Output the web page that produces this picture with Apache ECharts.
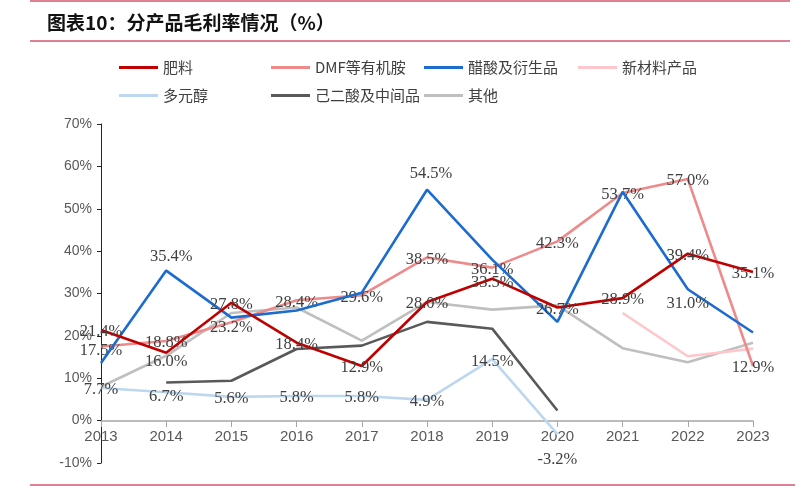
<!DOCTYPE html>
<html>
<head>
<meta charset="utf-8">
<script src="https://cdn.jsdelivr.net/npm/echarts@6/dist/echarts.min.js"></script>
<style>html,body{margin:0;padding:0;background:#fff}#c{width:808px;height:488px}</style>
</head>
<body>
<div id="c"></div>
<script>
const years = ['2013','2014','2015','2016','2017','2018','2019','2020','2021','2022','2023'];
const fertilizer = [21.4, 16.0, 27.8, 18.4, 12.9, 28.0, 33.5, 26.7, 28.9, 39.4, 35.1];
const dmf = [17.5, 18.8, 23.2, 28.4, 29.6, 38.5, 36.1, 42.3, 53.7, 57.0, 12.9];
const acetic = [13.6, 35.4, 24.3, 26.0, 30.2, 54.5, 38.0, 23.3, 54.0, 31.0, 20.8];
const newMaterial = [null, null, null, null, null, null, null, null, 25.4, 15.2, 17.0];
const polyol = [7.7, 6.7, 5.6, 5.8, 5.8, 4.9, 14.5, -3.2, null, null, null];
const adipic = [null, 9.0, 9.4, 16.9, 17.7, 23.3, 21.7, 2.4, null, null, null];
const other = [8.0, 15.3, 25.4, 26.7, 18.9, 28.0, 26.2, 27.2, 17.1, 13.8, 18.4];
const yTicks = ['-10%','0%','10%','20%','30%','40%','50%','60%','70%'];

const names = ['肥料','DMF等有机胺','醋酸及衍生品','新材料产品','多元醇','己二酸及中间品','其他'];
const colors = ['#C00000','#EE8A8A','#1C6BCF','#FFC7CB','#BDD7EE','#595959','#BFBFBF'];

const labelBase = {
  show: true, position: 'inside', offset: [0, 2],
  fontFamily: 'Liberation Serif', fontSize: 16.5, color: '#404040',
  formatter: p => p.value.toFixed(1) + '%'
};

function items(arr, overrides, labelAll) {
  return arr.map((v, i) => {
    if (v === null) return null;
    const it = { value: v };
    if (overrides[i]) it.label = Object.assign({ show: true }, overrides[i]);
    else if (!labelAll) it.label = { show: false };
    return it;
  });
}

function mkSeries(name, color, data, z) {
  return {
    name, type: 'line', data, z,
    symbol: 'circle', symbolSize: 0.01, showSymbol: true,
    connectNulls: false,
    lineStyle: { color, width: 2.6 },
    itemStyle: { color },
    label: Object.assign({}, labelBase),
    emphasis: { disabled: true },
    animation: false
  };
}

const series = [
  mkSeries('其他', colors[6], items(other, {}, false), 1),
  mkSeries('己二酸及中间品', colors[5], items(adipic, {}, false), 2),
  mkSeries('新材料产品', colors[3], items(newMaterial, {}, false), 2),
  mkSeries('多元醇', colors[4], items(polyol, {1: {offset: [0, 4]}, 7: {offset: [0, 25]}}, true), 3),
  mkSeries('DMF等有机胺', colors[1], items(dmf, {0: {offset: [0, 4]}, 2: {offset: [0, 5]}}, true), 4),
  mkSeries('醋酸及衍生品', colors[2], items(acetic, {1: {offset: [5, -14]}, 5: {offset: [4, -16]}, 9: {offset: [0, 14]}}, false), 5),
  mkSeries('肥料', colors[0], items(fertilizer, {1: {offset: [0, 9]}, 6: {offset: [0, 4]}}, true), 6)
];

const legendPos = [
  [114, 55], [266, 55], [419, 55], [573, 55],
  [114, 83], [266, 83], [419, 83]
];
const legends = names.map((n, i) => ({
  data: [n], left: legendPos[i][0], top: legendPos[i][1],
  icon: 'rect', itemWidth: 39, itemHeight: 3, itemGap: 0,
  selectedMode: false,
  textStyle: { fontFamily: 'Noto Sans CJK SC', fontSize: 15, color: '#404040' }
}));

const chart = echarts.init(document.getElementById('c'), null, { renderer: 'canvas' });
chart.setOption({
  animation: false,
  color: colors,
  title: {
    text: '图表10：分产品毛利率情况（%）', left: 42, top: 8,
    textStyle: { fontFamily: 'Noto Sans CJK SC', fontSize: 19, fontWeight: 'bold', color: '#111' }
  },
  legend: legends,
  graphic: [
    { type: 'line', shape: { x1: 30, y1: 1, x2: 790, y2: 1 }, style: { stroke: '#D6566F', lineWidth: 1.5 } },
    { type: 'line', shape: { x1: 30, y1: 41, x2: 790, y2: 41 }, style: { stroke: '#D6566F', lineWidth: 1.5 } },
    { type: 'line', shape: { x1: 30, y1: 485, x2: 795, y2: 485 }, style: { stroke: '#D6566F', lineWidth: 1.5 } }
  ],
  grid: { left: 101, right: 55, top: 124, bottom: 25, containLabel: false },
  xAxis: {
    type: 'category', data: years, boundaryGap: false,
    offset: -42,
    axisLine: { onZero: false, lineStyle: { color: '#A6A6A6', width: 1.5 } },
    axisTick: { show: true, length: 6, lineStyle: { color: '#A6A6A6' } },
    axisLabel: { color: '#595959', fontSize: 15, fontFamily: 'Liberation Sans', margin: 8 },
    splitLine: { show: false }
  },
  yAxis: {
    type: 'value', min: -10, max: 70, interval: 10,
    axisLine: { show: true, lineStyle: { color: '#262626', width: 1 } },
    axisTick: { show: true, length: 4, lineStyle: { color: '#262626' } },
    axisLabel: { color: '#595959', fontSize: 14, fontFamily: 'Liberation Sans', margin: 9,
      formatter: v => yTicks[Math.round((v + 10) / 10)] },
    splitLine: { show: false }
  },
  series
});
</script>
</body>
</html>
